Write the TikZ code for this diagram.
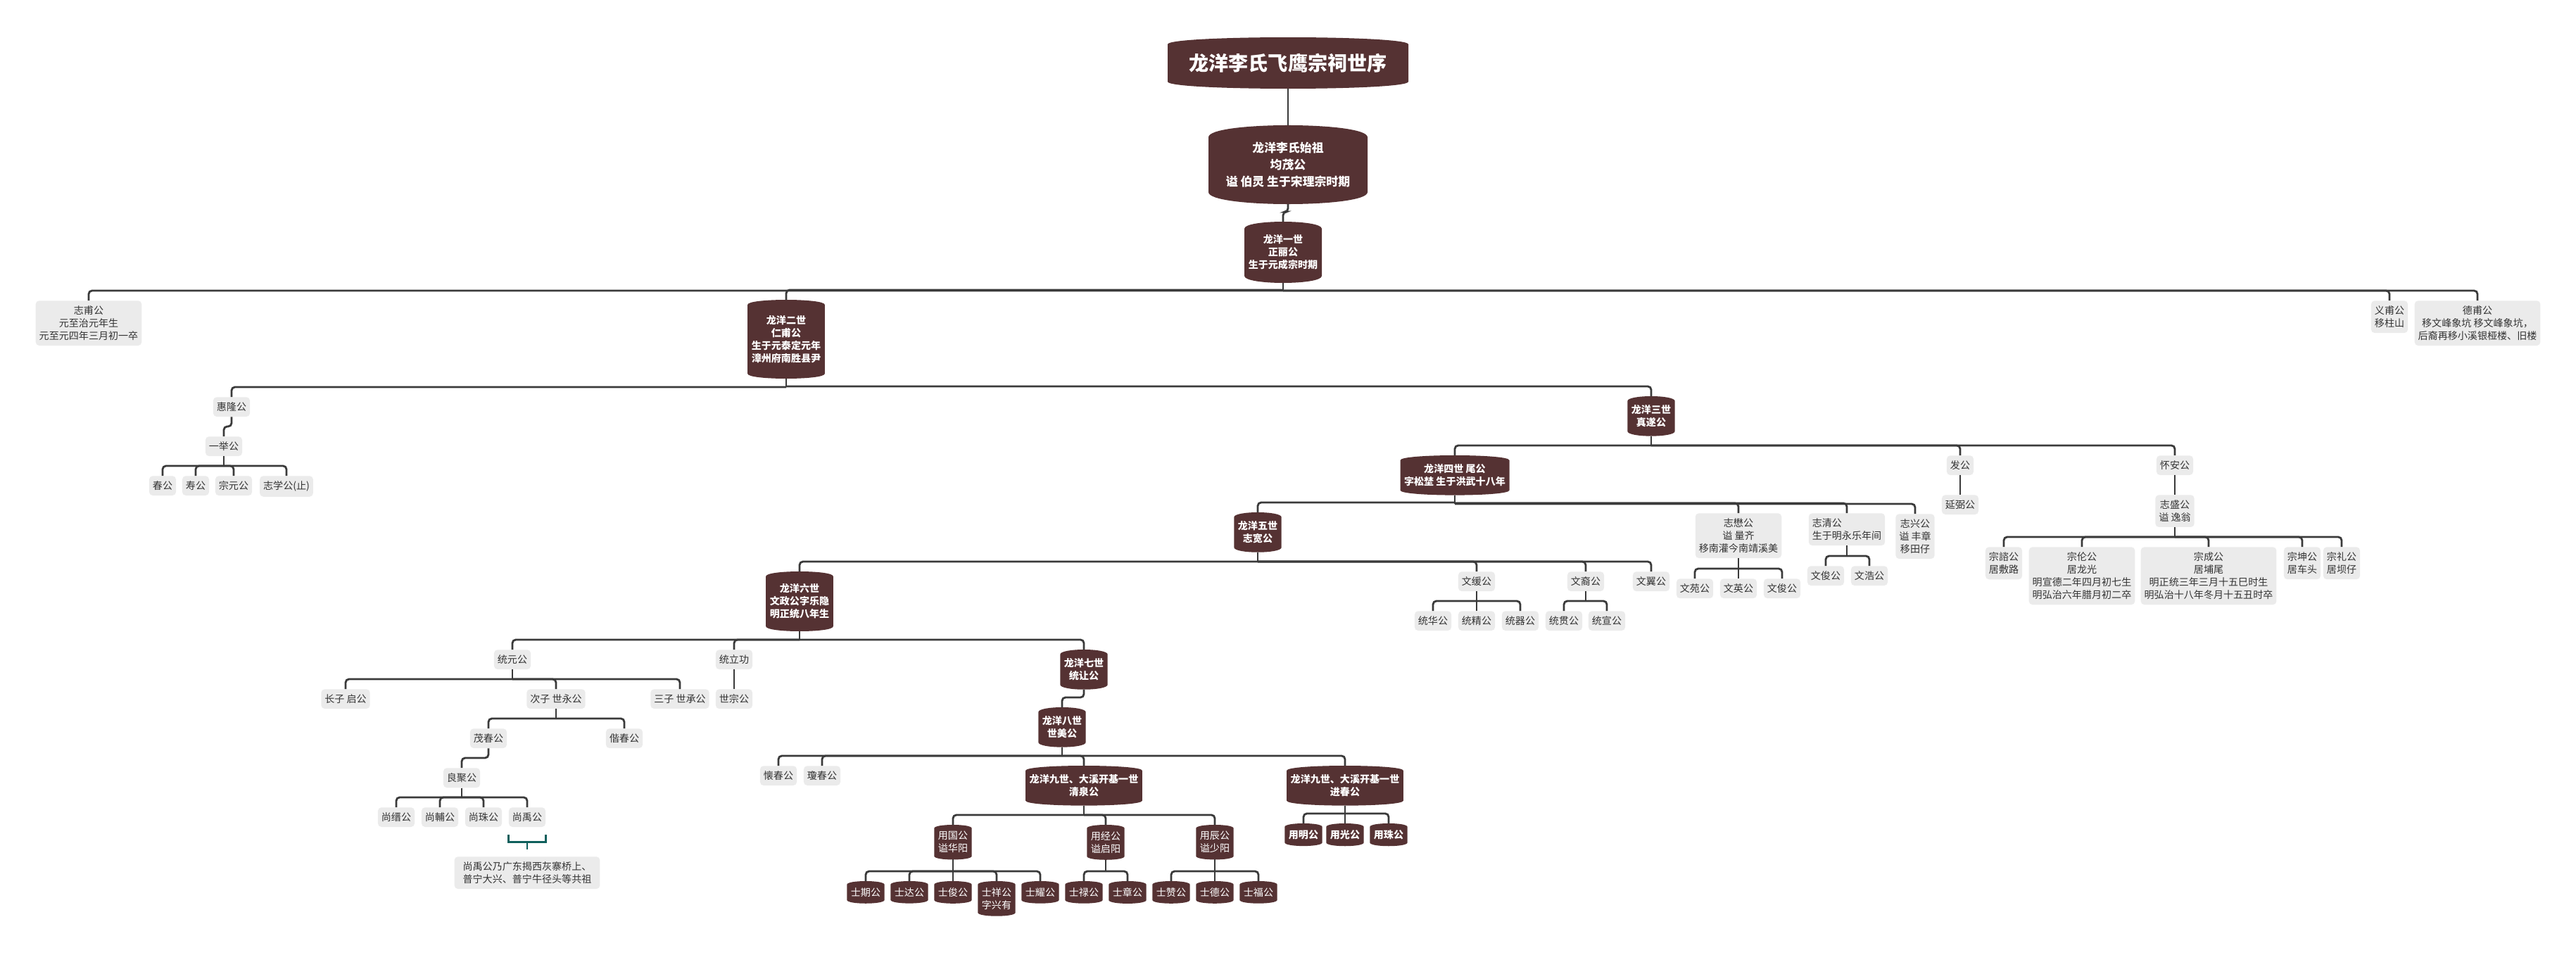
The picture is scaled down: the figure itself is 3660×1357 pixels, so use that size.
\documentclass[tikz,border=0pt]{standalone}
\usepackage{fontspec}
\setmainfont{Noto Sans CJK SC}

\definecolor{genc}{HTML}{553233}
\definecolor{leafc}{HTML}{EBEBEB}
\definecolor{inkc}{HTML}{333333}
\definecolor{linec}{HTML}{3A3A3A}
\definecolor{tealc}{HTML}{0F5F5C}

\pgfdeclarelayer{background}
\pgfsetlayers{background,main}

% elbow from parent to child, bus 14px above the child
\newcommand{\linkkin}[2]{%
  \path (#2.north) ++(0,-14) coordinate (bus);
  \draw[conn] (#1.south) -- (#1.south |- bus);
  \draw[conn] (#1.south |- bus) -| (#2.north);}
\newcommand{\linkjog}[2]{%
  \path (#2.north) ++(0,-14) coordinate (bus);
  \draw[conn] (#1.south) |- (bus) -- (#2.north);}

\begin{document}
\begin{tikzpicture}[x=0.25mm, y=-0.25mm]

% Define styles
\tikzstyle{leaf} = [rectangle, rounded corners=1.25mm, fill=leafc, text=inkc, font=\fontsize{10pt}{12.8pt}\selectfont, inner xsep=1.25mm, inner ysep=1.85mm, align=center, anchor=north]
\tikzstyle{gen} = [rectangle, text=white, font=\bfseries\fontsize{10pt}{12.8pt}\selectfont, inner xsep=1.4mm, inner ysep=1.4mm, outer xsep=0pt, outer ysep=1.75mm, align=center, anchor=north]
\tikzstyle{son} = [gen, font=\fontsize{10pt}{12.8pt}\selectfont, inner ysep=1.1mm, outer ysep=1.25mm]
\tikzstyle{conn} = [draw=linec, line width=0.7mm, rounded corners=1.2mm]
\tikzstyle{brace} = [draw=tealc, line width=0.6mm]

\useasboundingbox (0,0) rectangle (3660,1357);

% Title and founders
\node[gen, font=\bfseries\fontsize{20pt}{24pt}\selectfont, minimum width=85.5mm, minimum height=13.25mm, outer ysep=2.5mm] (title) at (1830,53) {龙洋李氏飞鹰宗祠世序};
\node[gen, font=\bfseries\fontsize{12pt}{17pt}\selectfont, minimum width=56.5mm, minimum height=19.5mm, outer ysep=4.25mm] (root) at (1830,178) {龙洋李氏始祖\\均茂公\\谥 伯灵 生于宋理宗时期};
\node[gen, minimum width=27.5mm, minimum height=16.75mm, outer ysep=2.5mm] (g1) at (1823,315) {龙洋一世\\正丽公\\生于元成宗时期};

% Second generation row
\node[leaf] (zhifu) at (126,427) {志甫公\\元至治元年生\\元至元四年三月初一卒};
\node[gen, minimum height=24.5mm] (g2) at (1117,426) {龙洋二世\\仁甫公\\生于元泰定元年\\漳州府南胜县尹};
\node[leaf] (yifu) at (3395,427) {义甫公\\移柱山};
\node[leaf] (defu) at (3520,427) {德甫公\\移文峰象坑 移文峰象坑，\\后裔再移小溪银桠楼、旧楼};

% Hui long branch
\node[leaf] (huilong) at (329,564) {惠隆公};
\node[leaf] (yiju) at (318,620) {一举公};
\node[leaf] (chun) at (231,676) {春公};
\node[leaf] (shou) at (278,676) {寿公};
\node[leaf] (zongyuan) at (332,676) {宗元公};
\node[leaf] (zhixue) at (407,676) {志学公(止)};

% Third and fourth generation
\node[gen] (g3) at (2346,563) {龙洋三世\\真遂公};
\node[gen] (g4) at (2067,647) {龙洋四世 尾公\\字松埜 生于洪武十八年};
\node[leaf] (fa) at (2785,647) {发公};
\node[leaf] (huaian) at (3090,647) {怀安公};
\node[leaf] (yanbi) at (2785,703) {延弼公};
\node[leaf] (zhisheng) at (3090,703) {志盛公\\谥 逸翁};
\node[leaf] (zongzi) at (2847,777) {宗諮公\\居敷路};
\node[leaf] (zonglun) at (2958,777) {宗伦公\\居龙光\\明宣德二年四月初七生\\明弘治六年腊月初二卒};
\node[leaf] (zongcheng) at (3138,777) {宗成公\\居埔尾\\明正统三年三月十五巳时生\\明弘治十八年冬月十五丑时卒};
\node[leaf] (zongkun) at (3271,777) {宗坤公\\居车头};
\node[leaf] (zongli) at (3327,777) {宗礼公\\居坝仔};

% Fifth generation row
\node[gen] (g5) at (1787,728) {龙洋五世\\志宽公};
\node[leaf] (zhimao) at (2470,729) {志懋公\\谥 量齐\\移南灌今南靖溪美};
\node[leaf, align=left] (zhiqing) at (2624,729) {志清公\\生于明永乐年间};
\node[leaf] (zhixing) at (2721,730) {志兴公\\谥 丰章\\移田仔};
\node[leaf] (wenyuan) at (2408,822) {文苑公};
\node[leaf] (wenying) at (2470,822) {文英公};
\node[leaf] (wenjun) at (2532,822) {文俊公};
\node[leaf] (wenjun2) at (2594,804) {文俊公};
\node[leaf] (wenhao) at (2656,804) {文浩公};

% Sixth generation row
\node[gen, minimum height=17.75mm] (g6) at (1136,812) {龙洋六世\\文政公字乐隐\\明正统八年生};
\node[leaf] (wenhuan) at (2098,812) {文缓公};
\node[leaf] (wenyi) at (2253,812) {文裔公};
\node[leaf] (wenyi2) at (2346,812) {文翼公};
\node[leaf] (tonghua) at (2036,868) {统华公};
\node[leaf] (tongjing) at (2098,868) {统精公};
\node[leaf] (tongqi) at (2160,868) {统器公};
\node[leaf] (tongguan) at (2222,868) {统贯公};
\node[leaf] (tongxuan) at (2283,868) {统宣公};

% Seventh generation row
\node[leaf] (tongyuan) at (728,923) {统元公};
\node[leaf] (tongli) at (1043,923) {统立功};
\node[gen] (g7) at (1540,923) {龙洋七世\\统让公};
\node[leaf] (shizong) at (1043,979) {世宗公};
\node[leaf] (qi) at (491,979) {长子 启公};
\node[leaf] (shiyong) at (790,979) {次子 世永公};
\node[leaf] (shicheng) at (966,979) {三子 世承公};
\node[leaf] (maochun) at (694,1035) {茂春公};
\node[leaf] (xiechun) at (887,1035) {偕春公};
\node[leaf] (liangju) at (656,1091) {良聚公};
\node[leaf] (shangjin) at (563,1147) {尚缙公};
\node[leaf] (shangfu) at (625,1147) {尚輔公};
\node[leaf] (shangzhu) at (687,1147) {尚珠公};
\node[leaf] (shangyu) at (749,1147) {尚禹公};
\node[leaf, align=left, inner xsep=3mm] (note) at (749,1217) {尚禹公乃广东揭西灰寨桥上、\\普宁大兴、普宁牛径头等共祖};

% Eighth and ninth generation
\node[gen] (g8) at (1509,1005) {龙洋八世\\世美公};
\node[leaf] (huaichun) at (1106,1088) {懐春公};
\node[leaf] (qiongchun) at (1168,1088) {瓊春公};
\node[gen] (qingquan) at (1540,1088) {龙洋九世、大溪开基一世\\清泉公};
\node[gen] (jinchun) at (1911,1088) {龙洋九世、大溪开基一世\\进春公};
\node[son] (yongguo) at (1354,1172) {用国公\\谥华阳};
\node[son] (yongjing) at (1571,1172) {用经公\\谥启阳};
\node[son] (yongchen) at (1726,1172) {用辰公\\谥少阳};
\node[son, font=\bfseries\fontsize{10pt}{12.8pt}\selectfont] (ming) at (1852,1170) {用明公};
\node[son, font=\bfseries\fontsize{10pt}{12.8pt}\selectfont] (guang) at (1911,1170) {用光公};
\node[son, font=\bfseries\fontsize{10pt}{12.8pt}\selectfont] (zhu) at (1973,1170) {用珠公};
\node[son] (shiqi) at (1230,1252) {士期公};
\node[son] (shida) at (1292,1252) {士达公};
\node[son] (shijun) at (1354,1252) {士俊公};
\node[son] (shixiang) at (1416,1252) {士祥公\\字兴有};
\node[son] (shiyao) at (1478,1252) {士耀公};
\node[son] (shilu) at (1540,1252) {士禄公};
\node[son] (shizhang) at (1602,1252) {士章公};
\node[son] (shizan) at (1664,1252) {士赞公};
\node[son] (shide) at (1726,1252) {士德公};
\node[son] (shifu) at (1788,1252) {士福公};

% Bulged backgrounds of the dark nodes
\begin{pgfonlayer}{background}
\foreach \n/\a/\c in {title/2.5/0.83, root/4.25/1.42, g1/2.5/0.83, g2/1.75/0.58, g3/1.75/0.58, g4/1.75/0.58, g5/1.75/0.58, g6/1.75/0.58, g7/1.75/0.58, g8/1.75/0.58, qingquan/1.75/0.58, jinchun/1.75/0.58, yongguo/1.25/0.42, yongjing/1.25/0.42, yongchen/1.25/0.42, ming/1.25/0.42, guang/1.25/0.42, zhu/1.25/0.42, shiqi/1.25/0.42, shida/1.25/0.42, shijun/1.25/0.42, shixiang/1.25/0.42, shiyao/1.25/0.42, shilu/1.25/0.42, shizhang/1.25/0.42, shizan/1.25/0.42, shide/1.25/0.42, shifu/1.25/0.42}
  \fill[genc] ([yshift=-\a mm]\n.north west) .. controls ([yshift=\c mm]\n.north west) and ([yshift=\c mm]\n.north east) .. ([yshift=-\a mm]\n.north east) -- ([yshift=\a mm]\n.south east) .. controls ([yshift=-\c mm]\n.south east) and ([yshift=-\c mm]\n.south west) .. ([yshift=\a mm]\n.south west) -- cycle;
\end{pgfonlayer}

% Connectors
\draw[conn] (title.south) -- (root.north);
\linkjog{root}{g1}
\foreach \c in {zhifu,g2,yifu,defu} {\linkkin{g1}{\c}}
\foreach \c in {huilong,g3} {\linkkin{g2}{\c}}
\linkjog{huilong}{yiju}
\foreach \c in {chun,shou,zongyuan,zhixue} {\linkkin{yiju}{\c}}
\foreach \c in {g4,fa,huaian} {\linkkin{g3}{\c}}
\draw[conn] (fa.south) -- (yanbi.north);
\draw[conn] (huaian.south) -- (zhisheng.north);
\foreach \c in {zongzi,zonglun,zongcheng,zongkun,zongli} {\linkkin{zhisheng}{\c}}
\foreach \c in {g5,zhimao,zhiqing,zhixing} {\linkkin{g4}{\c}}
\foreach \c in {wenyuan,wenjun} {\linkkin{zhimao}{\c}}
\draw[conn] (zhimao.south) -- (wenying.north);
\foreach \c in {wenjun2,wenhao} {\linkkin{zhiqing}{\c}}
\foreach \c in {g6,wenhuan,wenyi,wenyi2} {\linkkin{g5}{\c}}
\foreach \c in {tonghua,tongqi} {\linkkin{wenhuan}{\c}}
\draw[conn] (wenhuan.south) -- (tongjing.north);
\foreach \c in {tongguan,tongxuan} {\linkkin{wenyi}{\c}}
\foreach \c in {tongyuan,tongli,g7} {\linkkin{g6}{\c}}
\draw[conn] (tongli.south) -- (shizong.north);
\foreach \c in {qi,shiyong,shicheng} {\linkkin{tongyuan}{\c}}
\foreach \c in {maochun,xiechun} {\linkkin{shiyong}{\c}}
\linkjog{maochun}{liangju}
\foreach \c in {shangjin,shangfu,shangzhu,shangyu} {\linkkin{liangju}{\c}}
\linkjog{g7}{g8}
\foreach \c in {huaichun,qiongchun,qingquan,jinchun} {\linkkin{g8}{\c}}
\foreach \c in {yongguo,yongjing,yongchen} {\linkkin{qingquan}{\c}}
\foreach \c in {ming,zhu} {\linkkin{jinchun}{\c}}
\draw[conn] (jinchun.south) -- (guang.north);
\foreach \c in {shiqi,shida,shixiang,shiyao} {\linkkin{yongguo}{\c}}
\draw[conn] (yongguo.south) -- (shijun.north);
\foreach \c in {shilu,shizhang} {\linkkin{yongjing}{\c}}
\foreach \c in {shizan,shifu} {\linkkin{yongchen}{\c}}
\draw[conn] (yongchen.south) -- (shide.north);

% Note bracket
\draw[brace] ([shift={(0,11)}]shangyu.south west) -- ++(0,10) -| ([shift={(0,11)}]shangyu.south east);
\draw[brace] ([shift={(0,21)}]shangyu.south) -- ([shift={(0,-10)}]note.north);

\end{tikzpicture}
\end{document}
